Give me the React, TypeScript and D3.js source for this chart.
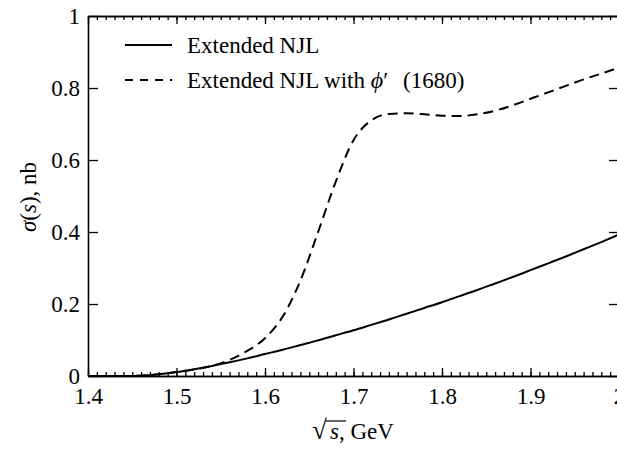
import React, { useEffect, useRef } from 'react';
import * as d3 from 'd3';

// sqrt(s), GeV
const energies = [
  1.4, 1.42, 1.44, 1.46, 1.48, 1.5, 1.52, 1.54, 1.56, 1.58, 1.6, 1.62, 1.64, 1.66, 1.68,
  1.7, 1.72, 1.74, 1.76, 1.78, 1.8, 1.82, 1.84, 1.86, 1.88, 1.9, 1.92, 1.94, 1.96, 1.98, 2.0,
];
// Extended NJL
const njl = [
  0, 0, 0, 0.001, 0.005, 0.011, 0.019, 0.028, 0.038, 0.049, 0.061, 0.073, 0.086, 0.099, 0.113,
  0.127, 0.142, 0.157, 0.173, 0.189, 0.205, 0.222, 0.239, 0.257, 0.275, 0.294, 0.313, 0.332, 0.352, 0.372, 0.393,
];
// Extended NJL with phi'(1680)
const njlPhi = [
  0, 0, 0, 0.001, 0.005, 0.011, 0.018, 0.028, 0.045, 0.07, 0.105, 0.165, 0.265, 0.4, 0.54,
  0.655, 0.71, 0.728, 0.73, 0.727, 0.723, 0.722, 0.727, 0.737, 0.752, 0.77, 0.788, 0.806, 0.824, 0.84, 0.857,
];
const xMajor = [1.4, 1.5, 1.6, 1.7, 1.8, 1.9, 2.0];
const yMajor = [0, 0.2, 0.4, 0.6, 0.8, 1];
const legendLabels = ['Extended NJL', 'Extended NJL with '];

const W = 617;
const H = 450;
const m = { left: 88, top: 16, right: 619, bottom: 376 };
const FONT = '"Liberation Serif", "Times New Roman", serif';
const FS = 23;

export default function App() {
  const ref = useRef<SVGSVGElement>(null);

  useEffect(() => {
    const svg = d3.select(ref.current);
    svg.selectAll('*').remove();

    const x = d3.scaleLinear().domain([1.4, 2.0]).range([m.left, m.right]);
    const y = d3.scaleLinear().domain([0, 1]).range([m.bottom, m.top]);
    const xMinor = d3.range(140, 201).map(d => d / 100);
    const fmt = (d: any) => (d === 0 || d === 1 || d === 2 ? String(d) : d3.format('.1f')(d));

    const style = (g: any) => {
      g.selectAll('path.domain').attr('stroke', '#000').attr('stroke-width', 1.6);
      g.selectAll('line').attr('stroke', '#000').attr('stroke-width', 1.3);
      g.selectAll('text').attr('font-family', FONT).attr('font-size', FS).attr('fill', '#000');
    };

    // bottom
    svg.append('g').attr('transform', `translate(0,${m.bottom})`)
      .call(d3.axisBottom(x).tickValues(xMinor).tickSize(-4).tickSizeOuter(0).tickFormat(() => ''))
      .call(style);
    svg.append('g').attr('transform', `translate(0,${m.bottom})`)
      .call(d3.axisBottom(x).tickValues(xMajor).tickSize(-8).tickSizeOuter(0).tickPadding(12).tickFormat(fmt))
      .call(style);
    // top
    svg.append('g').attr('transform', `translate(0,${m.top})`)
      .call(d3.axisTop(x).tickValues(xMinor).tickSize(-4).tickSizeOuter(0).tickFormat(() => ''))
      .call(style);
    svg.append('g').attr('transform', `translate(0,${m.top})`)
      .call(d3.axisTop(x).tickValues(xMajor).tickSize(-8).tickSizeOuter(0).tickFormat(() => ''))
      .call(style);
    // left
    svg.append('g').attr('transform', `translate(${m.left},0)`)
      .call(d3.axisLeft(y).tickValues(yMajor).tickSize(-10).tickSizeOuter(0).tickPadding(8).tickFormat(fmt))
      .call(style);
    // right
    svg.append('g').attr('transform', `translate(${m.right},0)`)
      .call(d3.axisRight(y).tickValues(yMajor).tickSize(-10).tickSizeOuter(0).tickFormat(() => ''))
      .call(style);

    const line = d3.line<number>()
      .x((_, i) => x(energies[i]))
      .y(d => y(d))
      .curve(d3.curveMonotoneX);

    svg.append('path').datum(njl).attr('d', line).attr('fill', 'none')
      .attr('stroke', '#000').attr('stroke-width', 2);
    svg.append('path').datum(njlPhi).attr('d', line).attr('fill', 'none')
      .attr('stroke', '#000').attr('stroke-width', 2).attr('stroke-dasharray', '10,6');

    // legend
    const lg = svg.append('g').attr('font-family', FONT).attr('font-size', FS);
    lg.append('line').attr('x1', 125).attr('x2', 172).attr('y1', 45).attr('y2', 45)
      .attr('stroke', '#000').attr('stroke-width', 2);
    lg.append('line').attr('x1', 125).attr('x2', 172).attr('y1', 80).attr('y2', 80)
      .attr('stroke', '#000').attr('stroke-width', 2).attr('stroke-dasharray', '8,7');
    lg.append('text').attr('x', 187).attr('y', 53).text(legendLabels[0]);
    const t2 = lg.append('text').attr('x', 187).attr('y', 88);
    t2.append('tspan').text(legendLabels[1]);
    t2.append('tspan').attr('font-style', 'italic').attr('font-size', 24).text('\u03D5');
    t2.append('tspan').text('\u2032');
    t2.append('tspan').attr('x', 403).text('(1680)');

    // axis titles
    const xt = svg.append('text').attr('x', 312).attr('y', 439)
      .attr('font-family', FONT).attr('font-size', FS);
    xt.append('tspan').attr('font-size', 27).text('\u221A');
    xt.append('tspan').attr('x', 330).attr('font-style', 'italic').text('s');
    xt.append('tspan').text(', GeV');
    svg.append('line').attr('x1', 326).attr('x2', 346).attr('y1', 421).attr('y2', 421)
      .attr('stroke', '#000').attr('stroke-width', 1.2);

    const yt = svg.append('text').attr('transform', 'translate(36,197) rotate(-90)')
      .attr('text-anchor', 'middle').attr('font-family', FONT).attr('font-size', FS);
    yt.append('tspan').attr('font-style', 'italic').text('\u03C3');
    yt.append('tspan').text('(');
    yt.append('tspan').attr('font-style', 'italic').text('s');
    yt.append('tspan').text('), nb');
  }, []);

  return (
    <svg ref={ref} width={W} height={H}
      style={{ position: 'absolute', left: 0, top: 0, background: '#fff' }} />
  );
}
